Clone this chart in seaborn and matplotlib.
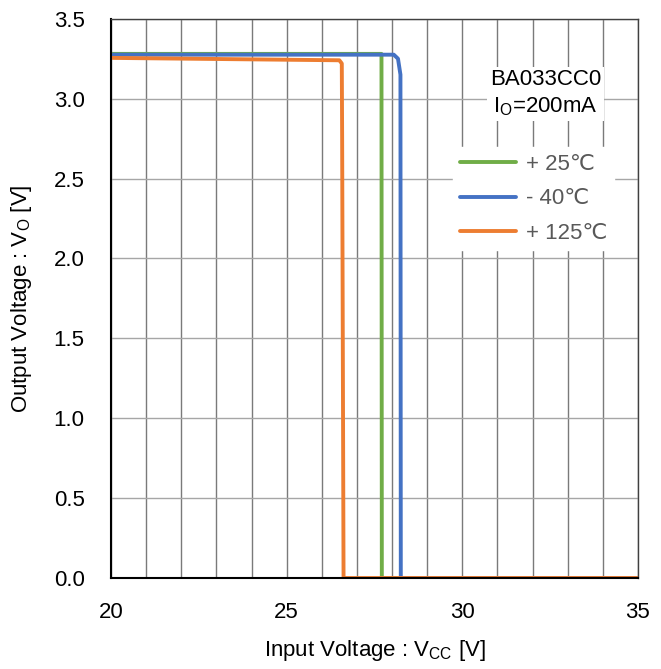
import matplotlib
matplotlib.use("Agg")
import matplotlib.pyplot as plt
import seaborn as sns
import pandas as pd

# Daten
green_x = [20, 27.7, 27.71, 35]
green_y = [3.28, 3.28, 0, 0]
blue_x = [20, 28.05, 28.17, 28.24, 28.25, 35]
blue_y = [3.275, 3.275, 3.25, 3.15, 0, 0]
orange_x = [20, 26.5, 26.57, 26.58, 26.62, 35]
orange_y = [3.255, 3.24, 3.22, 2.75, 0, 0]
labels = ["+ 25\u2103", "- 40\u2103", "+ 125\u2103"]
colors = ["#70AD47", "#4472C4", "#ED7D31"]

sns.set_style("white")
plt.rcParams["font.family"] = ["Liberation Sans", "DejaVu Sans"]

fig = plt.figure(figsize=(6.61, 6.69), dpi=100)
ax = fig.add_axes([0.168, 0.136, 0.797, 0.836])

# Gitter
ax.set_xticks(range(20, 36), minor=True)
ax.grid(True, which="minor", axis="x", color="#7a7a7a", linewidth=1.0)
ax.grid(True, which="major", axis="x", color="#7a7a7a", linewidth=1.0)
ax.grid(True, which="major", axis="y", color="#a6a6a6", linewidth=1.0)

for xs, ys, lab, c in zip([green_x, blue_x, orange_x],
                          [green_y, blue_y, orange_y], labels, colors):
    df = pd.DataFrame({"x": xs, "y": ys})
    sns.lineplot(data=df, x="x", y="y", sort=False, estimator=None, color=c,
                 linewidth=2.8, label=lab, ax=ax, solid_joinstyle="round")

ax.set_xlim(20, 35)
ax.set_ylim(0, 3.5)
ax.set_xticks([20, 25, 30, 35])
ax.set_yticks([0, 0.5, 1.0, 1.5, 2.0, 2.5, 3.0, 3.5])
ax.set_yticklabels([f"{v:.1f}" for v in ax.get_yticks()])
ax.tick_params(axis="both", which="both", length=0, labelsize=16,
               labelcolor="black")
ax.tick_params(axis="y", pad=19)
ax.tick_params(axis="x", pad=17)

for s in ["top", "right"]:
    ax.spines[s].set_color("#404040")
    ax.spines[s].set_linewidth(1.0)
for s in ["left", "bottom"]:
    ax.spines[s].set_color("black")
    ax.spines[s].set_linewidth(1.5)

ax.set_xlabel("Input Voltage : V$_\\mathregular{CC}$ [V]", fontsize=16,
              labelpad=11, color="black")
ax.set_ylabel("Output Voltage : V$_\\mathregular{O}$ [V]", fontsize=16,
              labelpad=14, color="black")

ax.text(0.825, 0.866, "BA033CC0\nI$_\\mathregular{O}$=200mA", transform=ax.transAxes,
        ha="center", va="center", fontsize=16, linespacing=1.3, color="black",
        bbox=dict(facecolor="white", edgecolor="none", pad=2))

leg = ax.legend(loc="upper right", bbox_to_anchor=(0.975, 0.79), frameon=True,
                fontsize=16, handlelength=2.5, labelspacing=0.6,
                borderpad=0.3, handletextpad=0.45, fancybox=False)
leg.get_frame().set_edgecolor("white")
leg.get_frame().set_alpha(1.0)
for t in leg.get_texts():
    t.set_color("#595959")

fig.savefig("out.png", dpi=100)
